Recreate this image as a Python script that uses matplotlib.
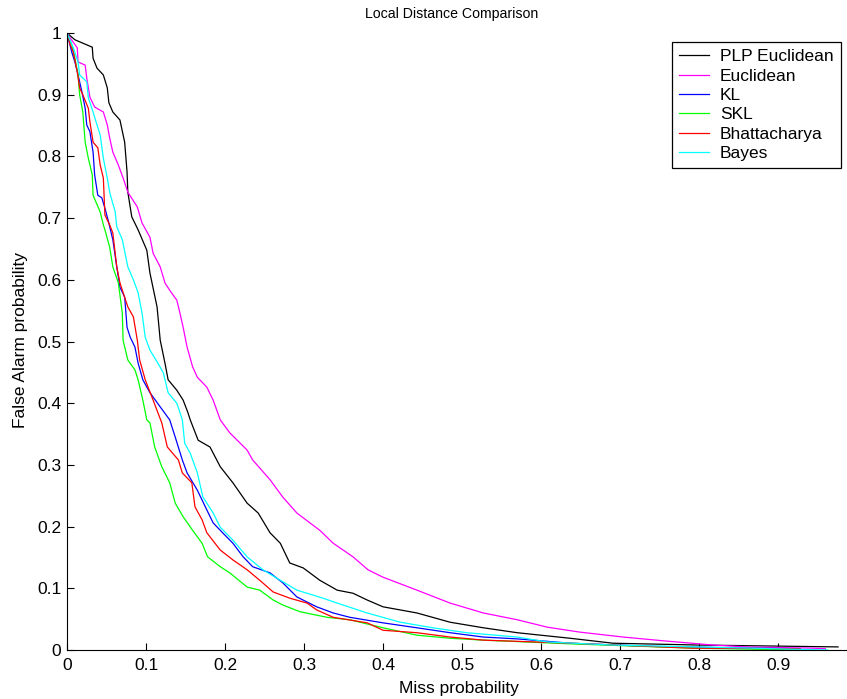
import numpy as np
import matplotlib
matplotlib.use("Agg")
import matplotlib.pyplot as plt

plt.rcParams["font.family"] = ["Liberation Sans", "DejaVu Sans"]

# (miss probability, false alarm probability)
plp_x = [0.0, .010, .032, .033, .038, .046, .051, .053, .058, .067, .073, .076, .077, .082, .090,
         .101, .105, .114, .118, .124, .128, .139, .147, .153, .156, .166, .181, .194, .210, .228,
         .242, .257, .270, .282, .299, .320, .342, .362, .380, .400, .443, .485, .527, .570, .637,
         .691, .801, .976]
plp_y = [1.0, .989, .977, .959, .943, .932, .911, .887, .872, .859, .823, .775, .742, .702, .681,
         .648, .611, .556, .502, .465, .438, .421, .405, .385, .373, .340, .329, .297, .271, .238,
         .222, .190, .173, .141, .133, .113, .097, .092, .081, .070, .060, .045, .036, .028, .019,
         .011, .008, .005]

euc_x = [0.0, .004, .013, .014, .023, .025, .029, .035, .046, .051, .054, .058, .065, .071, .077,
         .089, .095, .105, .109, .118, .124, .130, .139, .143, .147, .152, .159, .165, .177, .185,
         .194, .206, .228, .235, .257, .273, .291, .320, .337, .362, .381, .400, .443, .485, .527,
         .570, .608, .649, .704, .754, .818, .861, .944, .960]
euc_y = [1.0, .992, .976, .953, .948, .927, .896, .880, .872, .851, .830, .807, .786, .765, .742,
         .718, .692, .669, .643, .621, .595, .583, .567, .546, .523, .491, .459, .442, .426, .405,
         .373, .352, .324, .308, .276, .248, .222, .194, .173, .151, .130, .118, .097, .076, .060,
         .049, .037, .029, .021, .015, .008, .005, .003, .002]

kl_x = [0.0, .006, .010, .014, .019, .023, .025, .029, .032, .033, .035, .039, .044, .048, .052,
        .058, .063, .067, .073, .076, .080, .086, .090, .096, .105, .118, .130, .137, .146, .152,
        .165, .177, .185, .197, .210, .223, .235, .257, .273, .291, .316, .337, .358, .400, .443,
        .485, .527, .570, .637, .738, .865, .928]
kl_y = [1.0, .969, .953, .932, .904, .878, .851, .840, .815, .807, .770, .737, .733, .716, .697,
        .665, .621, .588, .572, .523, .507, .491, .465, .438, .417, .394, .373, .345, .308, .287,
        .259, .227, .206, .190, .173, .151, .135, .125, .109, .086, .070, .060, .053, .044, .036,
        .028, .021, .018, .011, .006, .003, .002]

skl_x = [0.0, .006, .010, .014, .016, .020, .023, .027, .032, .033, .042, .046, .048, .054, .058,
         .065, .070, .071, .077, .086, .090, .096, .101, .105, .111, .120, .130, .137, .147, .159,
         .171, .178, .194, .206, .228, .244, .261, .273, .295, .329, .358, .400, .443, .485, .527,
         .637, .792, .928]
skl_y = [1.0, .981, .959, .932, .900, .872, .823, .797, .770, .737, .710, .689, .681, .653, .621,
         .595, .546, .502, .470, .454, .438, .405, .373, .368, .329, .297, .271, .238, .216, .194,
         .173, .151, .135, .125, .102, .097, .081, .073, .062, .053, .049, .036, .024, .019, .016,
         .010, .003, 0.0]

bha_x = [0.0, .004, .008, .013, .016, .020, .027, .029, .033, .039, .042, .046, .048, .054, .058,
         .063, .067, .077, .084, .089, .092, .099, .109, .120, .127, .141, .146, .158, .162, .171,
         .177, .194, .210, .228, .244, .261, .282, .304, .316, .337, .380, .400, .443, .485, .527,
         .637, .792, .928]
bha_y = [1.0, .981, .969, .937, .911, .900, .878, .856, .823, .814, .786, .765, .705, .689, .676,
         .621, .595, .556, .540, .502, .470, .438, .405, .368, .329, .308, .287, .271, .232, .211,
         .190, .162, .146, .130, .113, .094, .084, .076, .065, .053, .044, .032, .028, .021, .016,
         .011, .003, .002]

bay_x = [0.0, .008, .014, .016, .025, .027, .033, .038, .042, .046, .051, .054, .061, .063, .070,
         .077, .084, .090, .095, .099, .105, .115, .122, .128, .139, .146, .149, .156, .165, .172,
         .185, .194, .210, .228, .248, .270, .291, .324, .342, .380, .422, .463, .506, .570, .608,
         .691, .865, .963]
bay_y = [1.0, .976, .953, .932, .921, .895, .872, .851, .835, .797, .765, .742, .710, .686, .665,
         .621, .600, .579, .546, .507, .486, .465, .449, .417, .400, .373, .335, .319, .287, .248,
         .222, .199, .178, .151, .130, .113, .097, .084, .076, .060, .045, .036, .028, .021, .013,
         .008, .003, 0.0]

series = [
    ("PLP Euclidean", plp_x, plp_y, "k"),
    ("Euclidean", euc_x, euc_y, "#ff00ff"),
    ("KL", kl_x, kl_y, "#0000ff"),
    ("SKL", skl_x, skl_y, "#00ff00"),
    ("Bhattacharya", bha_x, bha_y, "#ff0000"),
    ("Bayes", bay_x, bay_y, "#00ffff"),
]

tick_vals = np.arange(0, 0.95, 0.1)
tick_text = ["0", "0.1", "0.2", "0.3", "0.4", "0.5", "0.6", "0.7", "0.8", "0.9"]

W, H = 847, 699
fig = plt.figure(figsize=(W / 100, H / 100), dpi=100)
# the reference is cropped on the right, so the axes runs past the figure edge
ax = fig.add_axes([67 / W, 49 / H, 790 / W, 617 / H])

for name, xs, ys, col in series:
    ax.plot(xs, ys, color=col, lw=0.9, label=name)

ax.set_xlim(0, 1)
ax.set_ylim(0, 1)
ax.set_xticks(list(tick_vals) + [1.0])
ax.set_xticklabels(tick_text + [""])
ax.set_yticks(list(tick_vals) + [1.0])
ax.set_yticklabels(tick_text + ["1"])
ax.spines["top"].set_visible(False)
ax.spines["right"].set_visible(False)
for s in ("left", "bottom"):
    ax.spines[s].set_linewidth(0.8)
ax.tick_params(axis="both", direction="in", length=5, width=0.8, labelsize=12.5)
ax.tick_params(axis="x", pad=6)
ax.tick_params(axis="y", pad=4)

leg = ax.legend(loc="upper right", bbox_to_anchor=(841 / W, 1 - 42 / H),
                bbox_transform=fig.transFigure, fontsize=12.5, fancybox=False,
                framealpha=1, edgecolor="k", handlelength=1.7, handletextpad=0.65,
                labelspacing=0.24, borderpad=0.42, borderaxespad=0)
leg.get_frame().set_linewidth(0.9)

fig.text(452 / W, 1 - 14 / H, "Local Distance Comparison", ha="center", va="center", fontsize=10.2)
fig.text(459 / W, 1 - 688 / H, "Miss probability", ha="center", va="center", fontsize=12.5)
fig.text(20 / W, 1 - 340 / H, "False Alarm probability", ha="center", va="center",
         rotation=90, fontsize=12.5)

fig.savefig("out.png", dpi=100)
